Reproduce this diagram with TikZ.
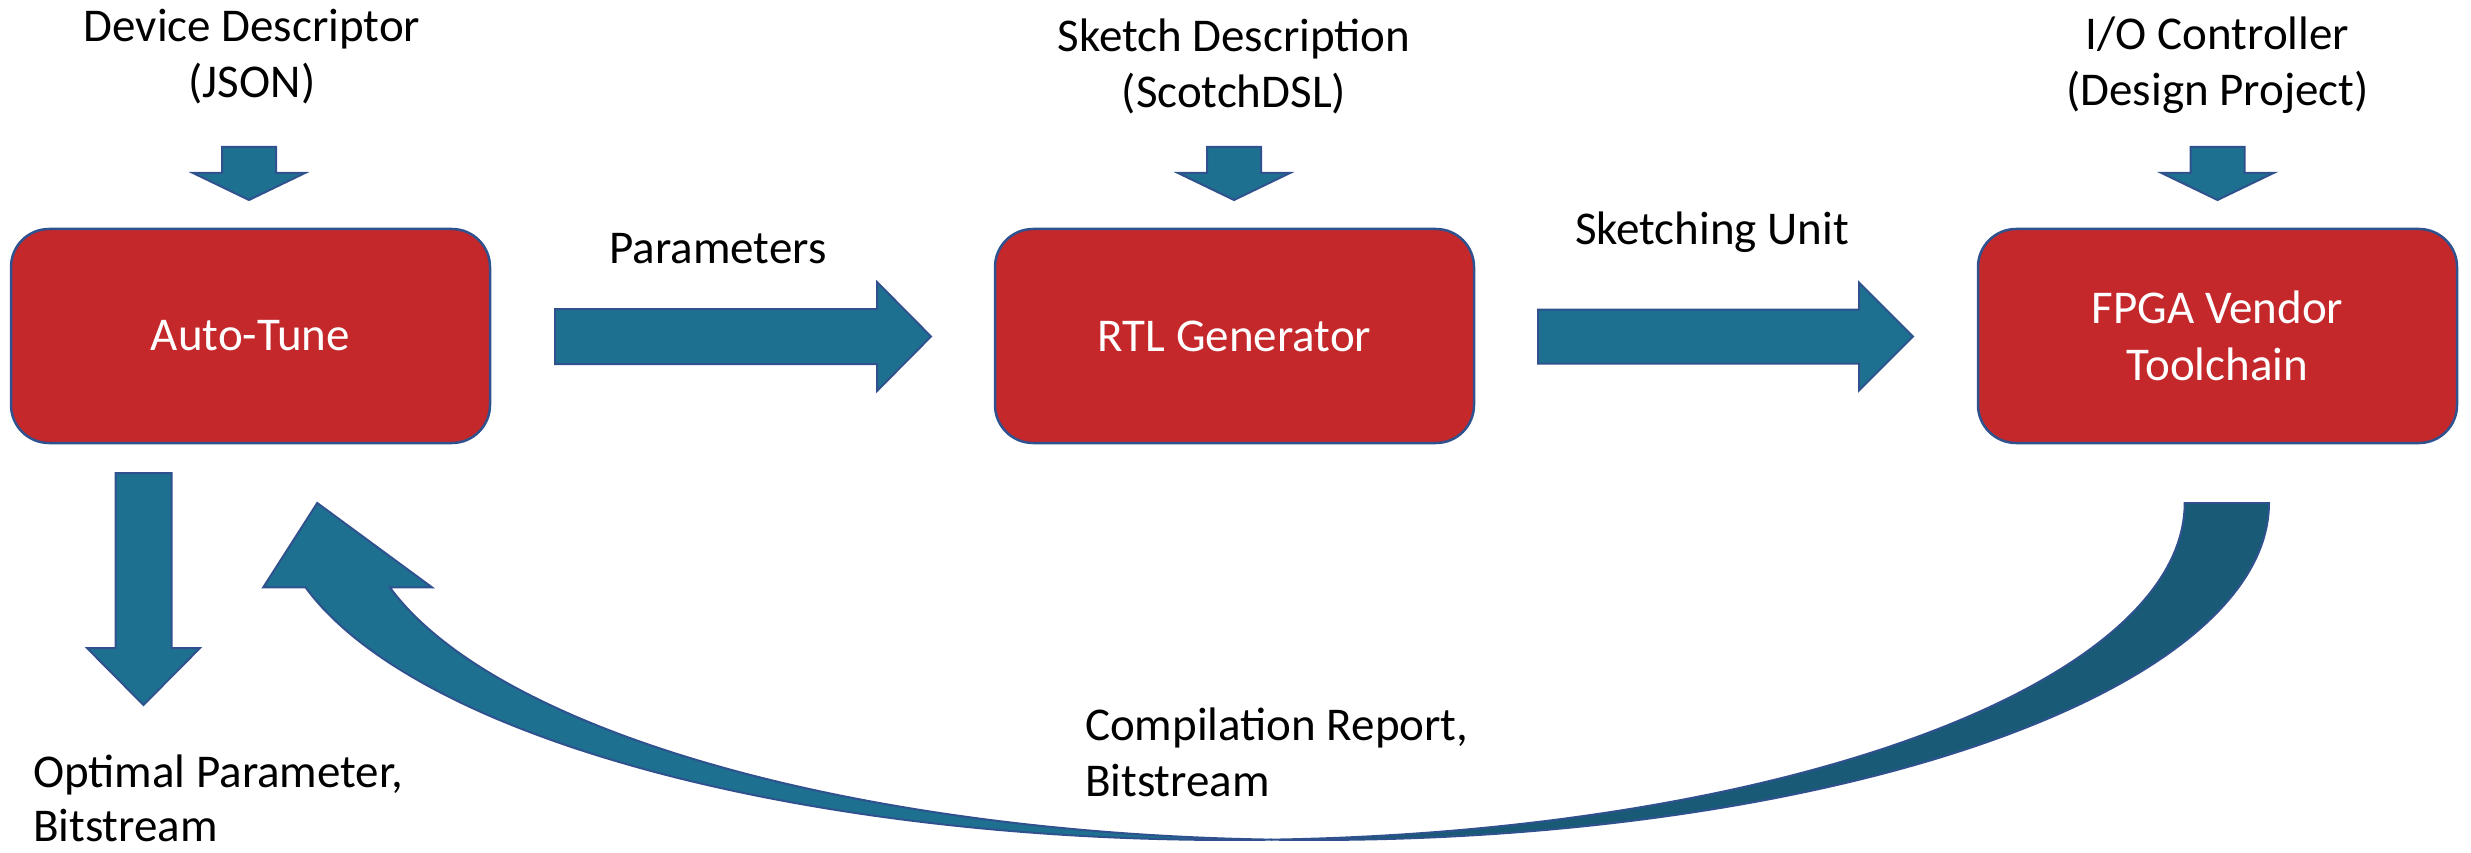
\documentclass[tikz,border=0pt]{standalone}
\usepackage{fontspec}
\setmainfont{Carlito}
\definecolor{boxred}{RGB}{197,40,43}
\definecolor{edgeblue}{RGB}{47,82,143}
\definecolor{arrowteal}{RGB}{29,112,144}
\definecolor{arrowdark}{RGB}{25,91,119}
% two-line labels whose reference point is the first baseline
\newcommand\centerpair[2]{\vtop{\halign{\hfil##\hfil\cr#1\cr#2\cr}}}
\newcommand\leftpair[2]{\vtop{\halign{##\hfil\cr#1\cr#2\cr}}}
% small input arrow pointing down onto a box, centred at #1
\newcommand\feedarrow[1]{%
  \draw[flow] (#1-27,147) -- (#1+27,147) -- (#1+27,173) -- (#1+56,173)
    -- (#1,200) -- (#1-56,173) -- (#1-27,173) -- cycle;}
\begin{document}
\begin{tikzpicture}[x=1pt,y=-1pt,
  txt/.style={font=\fontsize{47}{56}\selectfont, inner sep=0pt, outer sep=0pt},
  block/.style={rectangle, rounded corners=38pt, fill=boxred, draw=edgeblue,
    line width=2.5pt, minimum width=479pt, minimum height=214pt, text=white,
    align=center, font=\fontsize{47}{57}\selectfont, inner sep=0pt},
  flow/.style={fill=arrowteal, draw=edgeblue, line width=2pt, line join=miter}]
\useasboundingbox (0,0) rectangle (2471,853);

% processing stages
\node[block] (tune) at (250.5,336) {Auto-Tune};
\node[block] (rtl)  at (1234.5,336) {RTL Generator};
\node[block] (fpga) at (2217.5,336) {FPGA Vendor\\Toolchain};

% inputs on top
\node[txt, anchor=base] (devdesc) at (252,42)
  {\centerpair{Device Descriptor}{(JSON)}};
\node[txt, anchor=base] (sketchdesc) at (1234,52)
  {\centerpair{Sketch Description}{(ScotchDSL)}};
\node[txt, anchor=base] (ioctrl) at (2217.5,50)
  {\centerpair{I/O Controller}{(Design Project)}};
\feedarrow{249}
\feedarrow{1234}
\feedarrow{2217.5}

% forward flow between stages
\node[txt, anchor=base] (params) at (718,263) {Parameters};
\node[txt, anchor=base] (sketchunit) at (1712,244) {Sketching Unit};
\draw[flow] (555,309) -- (877,309) -- (877,282) -- (931,336.5)
  -- (877,391) -- (877,364) -- (555,364) -- cycle;
\draw[flow] (1538,309.5) -- (1859,309.5) -- (1859,282.5) -- (1913,336.5)
  -- (1859,390.5) -- (1859,363.5) -- (1538,363.5) -- cycle;

% final output
\draw[flow] (115.5,473) -- (171.5,473) -- (171.5,648) -- (200,648)
  -- (143.5,705) -- (87,648) -- (115.5,648) -- cycle;
\node[txt, font=\fontsize{47}{54}\selectfont, anchor=base west] (optimal)
  at (33,787) {\leftpair{Optimal Parameter,}{Bitstream}};

% feedback loop: curved band built from two offset ellipses
\draw[flow] (317.25,503) -- (263.3,587.25) -- (305.5,587.25)
  -- plot[domain=165.52:87.47, samples=90, variable=\t]
     ({1229.9+954.8*cos(\t)},{503+337*sin(\t)})
  -- plot[domain=92.53:165.52, samples=90, variable=\t]
     ({1314.2+954.8*cos(\t)},{503+337*sin(\t)})
  -- (431.9,587.25) -- cycle;
\draw[flow, fill=arrowdark] (1272.05,839.67)
  -- plot[domain=92.53:0, samples=90, variable=\t]
     ({1314.2+954.8*cos(\t)},{503+337*sin(\t)})
  -- plot[domain=0:87.47, samples=90, variable=\t]
     ({1229.9+954.8*cos(\t)},{503+337*sin(\t)})
  -- cycle;
\node[txt, anchor=base west] (report) at (1085,740)
  {\leftpair{Compilation Report,}{Bitstream}};
\end{tikzpicture}
\end{document}
